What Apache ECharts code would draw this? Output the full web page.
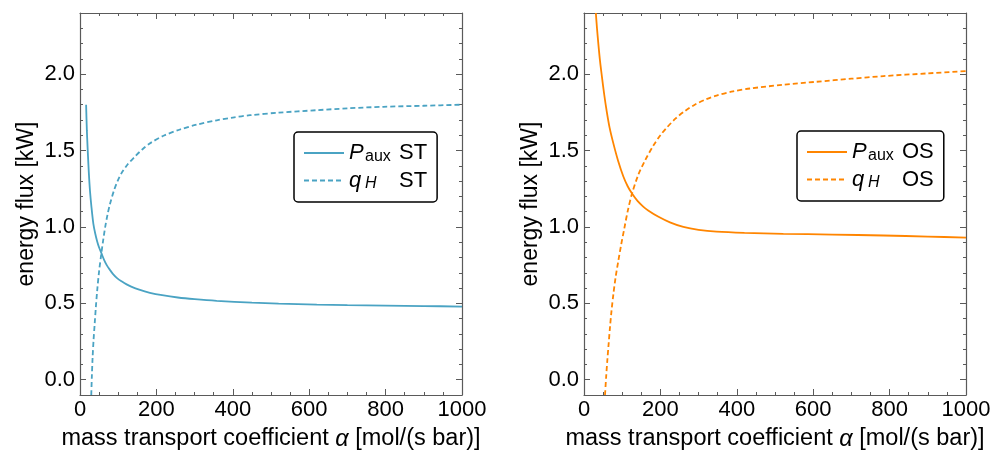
<!DOCTYPE html>
<html>
<head>
<meta charset="utf-8">
<script src="https://cdn.jsdelivr.net/npm/echarts@6/dist/echarts.min.js"></script>
<style>
  html, body { margin: 0; padding: 0; background: #fff; }
  #chart { width: 1001px; height: 450px; }
</style>
</head>
<body>
<div id="chart"></div>
<script>
// Tick positions
const alphaRange = [0, 1000];
const fluxRange = [-0.1, 2.4];
const fluxMajorTicks = [0, 0.5, 1.0, 1.5, 2.0];
const fluxMinorTicks = [0.1, 0.2, 0.3, 0.4, 0.6, 0.7, 0.8, 0.9, 1.1, 1.2, 1.3, 1.4,
                        1.6, 1.7, 1.8, 1.9, 2.1, 2.2, 2.3];

// Stack (ST): auxiliary power and heat flux vs. mass transport coefficient [alpha, kW]
const pauxST = [[16, 1.80], [17, 1.71], [18, 1.63], [19.5, 1.54], [21, 1.46], [23, 1.36],
                [26, 1.24], [30, 1.13], [35, 1.02], [40, 0.955], [45, 0.905], [50, 0.865],
                [56, 0.828], [63, 0.785], [70, 0.75], [78, 0.72], [86, 0.693], [97, 0.665],
                [110, 0.642], [122, 0.624], [134, 0.609], [155, 0.589], [183, 0.569],
                [215, 0.553], [256, 0.538], [300, 0.527], [358, 0.516], [450, 0.504],
                [520, 0.498], [620, 0.492], [700, 0.4886], [800, 0.485], [900, 0.482],
                [1000, 0.479]];
const qhST = [[29.5, -0.1], [31, 0.02], [33, 0.146], [35.5, 0.26], [38.4, 0.365], [41.5, 0.475],
              [45, 0.584], [50, 0.71], [56, 0.828], [61, 0.918], [66, 1.0], [72, 1.08],
              [78.5, 1.15], [89, 1.239], [98, 1.298], [108, 1.349], [125, 1.41], [143, 1.458],
              [163, 1.507], [185, 1.55], [220, 1.598], [260, 1.636], [305, 1.669], [358, 1.698],
              [400, 1.716], [445, 1.731], [520, 1.748], [620, 1.764], [700, 1.776],
              [794, 1.786], [900, 1.793], [1000, 1.80]];

// Open system (OS)
const pauxOS = [[31, 2.40], [34, 2.30], [37.5, 2.20], [42, 2.085], [47, 1.982], [53, 1.865],
                [59, 1.764], [67, 1.65], [77, 1.545], [89, 1.435], [103, 1.33], [114, 1.268],
                [125.7, 1.218], [140, 1.170], [155, 1.133], [168, 1.108], [195, 1.066],
                [225, 1.030], [260, 1.000], [300, 0.981], [347, 0.969], [420, 0.961],
                [522, 0.955], [650, 0.95], [784, 0.944], [900, 0.937], [1000, 0.93]];
const qhOS = [[55, -0.1], [58, 0.02], [61, 0.125], [64.5, 0.235], [68, 0.343], [72, 0.45],
              [77, 0.562], [83, 0.675], [90, 0.78], [97, 0.88], [105.5, 0.99], [115, 1.11],
              [125.7, 1.218], [142, 1.34], [160, 1.436], [181, 1.53], [200, 1.6], [216, 1.648],
              [240, 1.71], [265, 1.76], [290, 1.80], [320, 1.836], [347, 1.86], [390, 1.887],
              [435, 1.906], [520, 1.93], [609, 1.95], [700, 1.97], [784, 1.987], [900, 2.005],
              [1000, 2.02]];

const FONT = '"Liberation Sans", Arial, Helvetica, sans-serif';
const FRAME = '#5a5a5a';
const BLUE = '#4aa3c3';
const ORANGE = '#ff8500';

const grids = [
  { left: 80, top: 13, width: 382, height: 382, outerBoundsMode: 'none', containLabel: false },
  { left: 584, top: 13, width: 382, height: 382, outerBoundsMode: 'none', containLabel: false }
];

const xAxes = [];
const yAxes = [];
grids.forEach((g, gi) => {
  ['bottom', 'top'].forEach(pos => {
    const main = pos === 'bottom';
    xAxes.push({
      gridIndex: gi, type: 'value', position: pos,
      min: alphaRange[0], max: alphaRange[1], interval: 200,
      axisLine: { show: true, onZero: false, lineStyle: { color: FRAME, width: 1.2 } },
      axisTick: { show: true, inside: true, length: 6, lineStyle: { color: FRAME, width: 1 } },
      minorTick: { show: true, splitNumber: 4, length: 3, lineStyle: { color: FRAME, width: 1 } },
      splitLine: { show: false }, minorSplitLine: { show: false },
      axisLabel: { show: main, fontSize: 22, color: '#000', margin: 4, fontFamily: FONT,
                   formatter: v => String(v) },
      name: main ? 'mass transport coefficient {a|α} [mol/(s bar)]' : '',
      nameLocation: 'middle', nameGap: 32,
      nameTextStyle: {
        fontSize: 23.5, color: '#000', fontFamily: FONT,
        rich: { a: { fontSize: 23.5, fontStyle: 'italic', color: '#000', fontFamily: FONT } }
      }
    });
  });
  ['left', 'right'].forEach(pos => {
    const main = pos === 'left';
    // major ticks (with labels on the left side)
    yAxes.push({
      gridIndex: gi, type: 'value', position: pos,
      min: fluxRange[0], max: fluxRange[1],
      axisLine: { show: true, onZero: false, lineStyle: { color: FRAME, width: 1.2 } },
      axisTick: { show: true, inside: true, length: 6, customValues: fluxMajorTicks,
                  lineStyle: { color: FRAME, width: 1 } },
      axisLabel: { show: main, customValues: fluxMajorTicks, formatter: v => v.toFixed(1),
                   fontSize: 22, color: '#000', margin: 5, fontFamily: FONT },
      splitLine: { show: false },
      name: main ? 'energy flux [kW]' : '',
      nameLocation: 'middle', nameGap: 42, nameRotate: 90,
      nameTextStyle: { fontSize: 23, color: '#000', fontFamily: FONT }
    });
    // minor ticks
    yAxes.push({
      gridIndex: gi, type: 'value', position: pos,
      min: fluxRange[0], max: fluxRange[1],
      axisLine: { show: false, onZero: false },
      axisTick: { show: true, inside: true, length: 3, customValues: fluxMinorTicks,
                  lineStyle: { color: FRAME, width: 1 } },
      axisLabel: { show: false },
      splitLine: { show: false }
    });
  });
});

function lineSeries(name, data, gi, color, dashed) {
  return {
    type: 'line', name: name, data: data,
    xAxisIndex: gi * 2, yAxisIndex: gi * 4,
    symbol: 'none', showSymbol: false,
    smooth: 0.3, clip: true,
    lineStyle: { color: color, width: 1.8, type: dashed ? [5, 3] : 'solid' },
    itemStyle: { color: color },
    emphasis: { disabled: true }
  };
}

const legendText = {
  'P_aux ST': '{v|P}{s|aux}{n|ST}',
  'q_H ST': '{v|q}{h|H}{n|ST}',
  'P_aux OS': '{v|P}{s|aux}{n|OS}',
  'q_H OS': '{v|q}{h|H}{n|OS}'
};
const legendRich = {
  v: { fontSize: 22, fontStyle: 'italic', color: '#000', fontFamily: FONT, width: 16, lineHeight: 22 },
  s: { fontSize: 16, color: '#000', fontFamily: FONT, width: 34, padding: [7, 0, 0, 0] },
  h: { fontSize: 16, fontStyle: 'italic', color: '#000', fontFamily: FONT, width: 34, padding: [7, 0, 0, 0] },
  n: { fontSize: 22, color: '#000', fontFamily: FONT, lineHeight: 22 }
};
function legendBox(names, left, top) {
  return {
    data: names, orient: 'vertical', left: left, top: top,
    itemWidth: 40, itemHeight: 12, itemGap: 5,
    padding: [10, 10, 10, 9],
    borderColor: '#000', borderWidth: 1.5, borderRadius: 4,
    selectedMode: false,
    itemStyle: { opacity: 0 },
    formatter: n => legendText[n],
    textStyle: { fontFamily: FONT, fontSize: 22, color: '#000', rich: legendRich }
  };
}

const chart = echarts.init(document.getElementById('chart'), null, { renderer: 'canvas' });
chart.setOption({
  animation: false,
  backgroundColor: '#fff',
  grid: grids,
  xAxis: xAxes,
  yAxis: yAxes,
  legend: [
    legendBox(['P_aux ST', 'q_H ST'], 294, 132),
    legendBox(['P_aux OS', 'q_H OS'], 797, 131)
  ],
  series: [
    lineSeries('P_aux ST', pauxST, 0, BLUE, false),
    lineSeries('q_H ST', qhST, 0, BLUE, true),
    lineSeries('P_aux OS', pauxOS, 1, ORANGE, false),
    lineSeries('q_H OS', qhOS, 1, ORANGE, true)
  ]
});
</script>
</body>
</html>
